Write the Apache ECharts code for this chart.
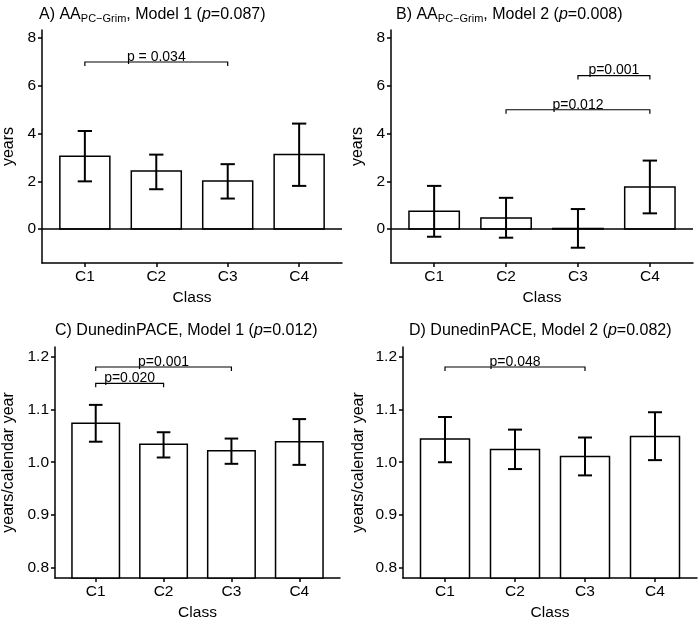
<!DOCTYPE html>
<html>
<head>
<meta charset="utf-8">
<script src="https://cdn.jsdelivr.net/npm/echarts@6/dist/echarts.min.js"></script>
<style>
  html, body { margin: 0; padding: 0; background: #fff; }
  #chart { width: 700px; height: 622px; }
</style>
</head>
<body>
<div id="chart"></div>
<script>
// ===== data =====
const classes = ["C1", "C2", "C3", "C4"];

// A) AA PC-Grim, Model 1
const aMean = [3.05, 2.43, 2.02, 3.12];
const aLow  = [2.00, 1.67, 1.28, 1.81];
const aHigh = [4.11, 3.12, 2.72, 4.42];
const aBrackets = [[1, 3, 7.0, "p = 0.034"]];

// B) AA PC-Grim, Model 2
const bMean = [0.75, 0.47, 0.02, 1.76];
const bLow  = [-0.32, -0.36, -0.78, 0.66];
const bHigh = [1.81, 1.31, 0.84, 2.87];
const bBrackets = [[3, 4, 6.43, "p=0.001"], [2, 4, 5.0, "p=0.012"]];

// C) DunedinPACE, Model 1
const cMean = [1.074, 1.034, 1.022, 1.039];
const cLow  = [1.039, 1.009, 0.997, 0.995];
const cHigh = [1.109, 1.057, 1.045, 1.082];
const cBrackets = [[1, 3, 1.181, "p=0.001"], [1, 2, 1.150, "p=0.020"]];

// D) DunedinPACE, Model 2
const dMean = [1.044, 1.024, 1.011, 1.049];
const dLow  = [1.000, 0.987, 0.975, 1.004];
const dHigh = [1.086, 1.062, 1.047, 1.095];
const dBrackets = [[1, 3, 1.181, "p=0.048"]];

const abTicks = [0, 2, 4, 6, 8];
const cdTicks = [0.8, 0.9, 1.0, 1.1, 1.2];

// ===== layout =====
const FONT = "Liberation Sans, Arial, sans-serif";
const panels = [
    { title: "A) AA{sub|PC\u2212Grim}, Model 1 ({it|p}=0.087)", mean: aMean, low: aLow, high: aHigh, br: aBrackets,
      ticks: abTicks, min: -1.42, max: 8.34, dec: 0, yName: "years", yGap: 25,
      grid: { left: 37, right: 358, top: 30, bottom: 359 }, tLeft: 34, tTop: 1 },
    { title: "B) AA{sub|PC\u2212Grim}, Model 2 ({it|p}=0.008)", mean: bMean, low: bLow, high: bHigh, br: bBrackets,
      ticks: abTicks, min: -1.42, max: 8.34, dec: 0, yName: "years", yGap: 25,
      grid: { left: 391, right: 7, top: 30, bottom: 359 }, tLeft: 391, tTop: 1 },
    { title: "C) DunedinPACE, Model 1 ({it|p}=0.012)", mean: cMean, low: cLow, high: cHigh, br: cBrackets,
      ticks: cdTicks, min: 0.78, max: 1.219, dec: 1, yName: "years/calendar year", yGap: 38,
      grid: { left: 50, right: 360, top: 347, bottom: 41 }, tLeft: 50, tTop: 318 },
    { title: "D) DunedinPACE, Model 2 ({it|p}=0.082)", mean: dMean, low: dLow, high: dHigh, br: dBrackets,
      ticks: cdTicks, min: 0.78, max: 1.219, dec: 1, yName: "years/calendar year", yGap: 36,
      grid: { left: 403, right: 3, top: 347, bottom: 41 }, tLeft: 404, tTop: 318 }
];

const chart = echarts.init(document.getElementById("chart"));

const titles = [], grids = [], xAxes = [], yAxes = [], series = [];

panels.forEach((p, i) => {
    titles.push({
        text: p.title, left: p.tLeft, top: p.tTop,
        textStyle: {
            fontFamily: FONT, fontSize: 16, fontWeight: "normal", color: "#000",
            rich: {
                sub: { fontFamily: FONT, fontSize: 11, color: "#000", padding: [7, 0, 0, 0] },
                it: { fontFamily: FONT, fontSize: 16, fontStyle: "italic", color: "#000" }
            }
        }
    });
    grids.push(p.grid);
    xAxes.push({
        gridIndex: i, type: "value", min: 0.4, max: 4.6,
        name: "Class", nameLocation: "middle", nameGap: 27,
        nameTextStyle: { fontFamily: FONT, fontSize: 15.5, color: "#000" },
        axisLine: { onZero: false, lineStyle: { color: "#000", width: 1.5 } },
        axisTick: { show: true, length: 4, customValues: [1, 2, 3, 4], lineStyle: { color: "#000", width: 1.5 } },
        axisLabel: { customValues: [1, 2, 3, 4], margin: 6, fontFamily: FONT, fontSize: 15.5, color: "#000",
            formatter: v => classes[Math.round(v) - 1] },
        splitLine: { show: false }
    });
    yAxes.push({
        gridIndex: i, type: "value", min: p.min, max: p.max,
        name: p.yName, nameLocation: "middle", nameGap: p.yGap,
        nameTextStyle: { fontFamily: FONT, fontSize: 16, color: "#000" },
        axisLine: { show: true, onZero: false, lineStyle: { color: "#000", width: 1.5 } },
        axisTick: { show: true, length: 4, customValues: p.ticks, lineStyle: { color: "#000", width: 1.5 } },
        axisLabel: { customValues: p.ticks, margin: 6, fontFamily: FONT, fontSize: 15.5, color: "#000",
            formatter: v => v.toFixed(p.dec) },
        splitLine: { show: false }
    });

    const base = Math.max(0, p.min);
    const rows = classes.map((c, k) => [k + 1, p.mean[k], p.low[k], p.high[k]]);

    // bars + error bars
    series.push({
        type: "custom", xAxisIndex: i, yAxisIndex: i, silent: true,
        data: rows,
        encode: { x: 0, y: [1, 2, 3] },
        renderItem: (params, api) => {
            const x = api.value(0);
            const m = api.value(1), lo = api.value(2), hi = api.value(3);
            const tl = api.coord([x - 0.35, m]);
            const br = api.coord([x + 0.35, base]);
            const cTop = api.coord([x, hi]);
            const cBot = api.coord([x, lo]);
            const capL = api.coord([x - 0.1, hi])[0];
            const capR = api.coord([x + 0.1, hi])[0];
            const stroke = { stroke: "#000", lineWidth: 2 };
            return {
                type: "group",
                children: [
                    { type: "rect", shape: { x: tl[0], y: Math.min(tl[1], br[1]), width: br[0] - tl[0], height: Math.abs(br[1] - tl[1]) },
                      style: { fill: "#fff", stroke: "#000", lineWidth: 1.5 } },
                    { type: "line", shape: { x1: cTop[0], y1: cTop[1], x2: cBot[0], y2: cBot[1] }, style: stroke },
                    { type: "line", shape: { x1: capL, y1: cTop[1], x2: capR, y2: cTop[1] }, style: stroke },
                    { type: "line", shape: { x1: capL, y1: cBot[1], x2: capR, y2: cBot[1] }, style: stroke }
                ]
            };
        },
        markLine: p.min < 0 ? {
            silent: true, symbol: "none", label: { show: false },
            lineStyle: { color: "#000", width: 1.5, type: "solid" },
            data: [{ yAxis: 0 }]
        } : undefined,
        z: 2
    });

    // significance brackets
    series.push({
        type: "custom", xAxisIndex: i, yAxisIndex: i, silent: true,
        data: p.br.map(b => [b[0], b[1], b[2]]),
        encode: { x: [0, 1], y: 2 },
        renderItem: (params, api) => {
            const a = api.coord([api.value(0), api.value(2)]);
            const b = api.coord([api.value(1), api.value(2)]);
            const s = { stroke: "#000", lineWidth: 1.2 };
            return {
                type: "group",
                children: [
                    { type: "polyline", shape: { points: [[a[0], a[1] + 4], a, b, [b[0], b[1] + 4]] }, style: { ...s, fill: null } },
                    { type: "text", x: (a[0] + b[0]) / 2, y: a[1] + 2,
                      style: { text: p.br[params.dataIndex][3], fill: "#000", font: "14px " + FONT, align: "center", verticalAlign: "bottom" } }
                ]
            };
        },
        z: 3
    });
});

chart.setOption({
    animation: false,
    backgroundColor: "#fff",
    title: titles,
    grid: grids,
    xAxis: xAxes,
    yAxis: yAxes,
    series
});
</script>
</body>
</html>
